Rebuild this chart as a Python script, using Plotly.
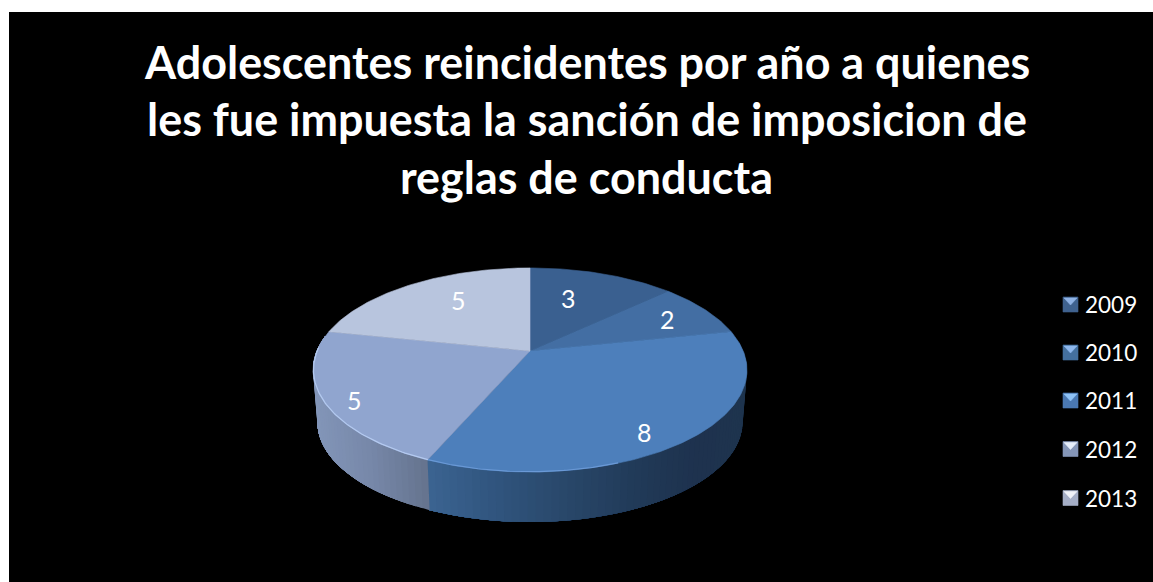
import math
import plotly.graph_objects as go

# ---------- data ----------
YEARS = ["2009", "2010", "2011", "2012", "2013"]
VALUES = [3, 2, 8, 5, 5]
TITLE_LINES = [
    "Adolescentes reincidentes por año a quienes",
    "les fue impuesta la sanción de imposicion de",
    "reglas de conducta",
]

# ---------- styles ----------
TOP_COLORS = ["#3a6090", "#436ea3", "#4d7fbb", "#90a5cf", "#b8c5de"]
ICON_BASE = ["#3f628f", "#44709f", "#4a78b2", "#8596b8", "#a5aec6"]
ICON_LIGHT = ["#8fb2e4", "#8fb8ee", "#8fc2f6", "#e6eefb", "#f0f2f8"]
FONT = "Lato, Carlito, Calibri, sans-serif"

CX, CY_TOP = 530.0, 351.0
A, B, K = 213.2, 98.5, 0.186
DEPTH_SCALE, CY_BOTTOM = 0.98, 403.4
LABEL_XY = [(568, 298), (667, 319), (644, 432), (354, 400), (458, 300)]
LEGEND_X, LEGEND_YS = 1070.5, [304.5, 352.5, 400.5, 449, 498]
TITLE_X, TITLE_YS, TITLE_SIZE = 586.5, [61.6, 119.4, 176.6], 44.9

W_STOPS_8 = [(420, "#3d6694"), (500, "#30547d"), (570, "#294769"), (640, "#213a58"), (700, "#1e324e"), (750, "#1f354f")]
W_STOPS_5 = [(310, "#8497ba"), (370, "#7788a9"), (432, "#64728c")]


def project(theta, r=1.0, scale=1.0, cy=CY_TOP):
    """Polar position on the pie (clockwise from 12 o'clock) -> pixel."""
    X, Y = r * math.sin(theta), r * math.cos(theta)
    d = 1 + K * Y
    return CX + scale * A * X / d, cy - scale * B * Y / d


def mix(stops, x):
    def rgb(h):
        return [int(h[i:i + 2], 16) for i in (1, 3, 5)]
    if x <= stops[0][0]:
        return stops[0][1]
    for (x0, c0), (x1, c1) in zip(stops, stops[1:]):
        if x <= x1:
            t = (x - x0) / (x1 - x0)
            return "rgb(%d,%d,%d)" % tuple(a + (b - a) * t for a, b in zip(rgb(c0), rgb(c1)))
    return stops[-1][1]


fig = go.Figure()


def poly(xs, ys, color, name=None, lw=0.6):
    fig.add_trace(go.Scatter(x=xs, y=ys, mode="lines", fill="toself", fillcolor=color,
                             line=dict(color=color, width=lw), hoverinfo="skip",
                             name=name, showlegend=False))


total = sum(VALUES)
edges = [0.0]
for v in VALUES:
    edges.append(edges[-1] + 2 * math.pi * v / total)

# side wall: each strip runs to the end of its slice and the next strip paints
# over it, which shades the wall along x without visible seams
wall_start, wall_end = math.radians(85), math.radians(279)
step = (wall_end - wall_start) / 110
for stops, lo, hi in ((W_STOPS_8, wall_start, edges[3]), (W_STOPS_5, edges[3], wall_end)):
    count = max(1, int((hi - lo) / step))
    for i in range(count):
        t0 = lo + (hi - lo) * i / count
        pts_top = [project(t0 + (hi - t0) * j / 12) for j in range(13)]
        pts_bot = [project(t0 + (hi - t0) * j / 12, scale=DEPTH_SCALE, cy=CY_BOTTOM) for j in range(13)]
        xm = (project(t0)[0] + project(t0 + (hi - lo) / count)[0]) / 2
        xs = [p[0] for p in pts_top] + [p[0] for p in reversed(pts_bot)]
        ys = [p[1] for p in pts_top] + [p[1] for p in reversed(pts_bot)]
        poly(xs + xs[:1], ys + ys[:1], mix(stops, xm), lw=0)

# top face
for i, year in enumerate(YEARS):
    steps = max(2, int((edges[i + 1] - edges[i]) * 60))
    pts = [project(edges[i] + (edges[i + 1] - edges[i]) * j / steps) for j in range(steps + 1)]
    xs = [CX] + [p[0] for p in pts] + [CX]
    ys = [CY_TOP] + [p[1] for p in pts] + [CY_TOP]
    poly(xs, ys, TOP_COLORS[i], name=year)

# bright rim along the front edge of the top face
for i, color, first in ((2, "#6a99d6", 160), (3, "#b4caf0", 0)):
    start = max(edges[i], math.radians(first))
    end = min(edges[i + 1], math.radians(272))
    pts = [project(start + (end - start) * j / 80, r=0.998) for j in range(81)]
    fig.add_trace(go.Scatter(x=[p[0] for p in pts], y=[p[1] for p in pts], mode="lines",
                             line=dict(color=color, width=1.2), hoverinfo="skip", showlegend=False))

# legend icons (bevelled squares)
HALF = 7.5
for y, base, light in zip(LEGEND_YS, ICON_BASE, ICON_LIGHT):
    l, r, t, b = LEGEND_X - HALF, LEGEND_X + HALF, y - HALF, y + HALF
    poly([l, r, r, l, l], [t, t, b, b, t], base)
    poly([l + 1, r - 1, LEGEND_X, l + 1], [t + 1, t + 1, y + 0.5, t + 1], light)

annotations = []
for line, y in zip(TITLE_LINES, TITLE_YS):
    annotations.append(dict(x=TITLE_X, y=y, text="<b>%s</b>" % line, showarrow=False,
                            xref="x", yref="y", font=dict(family=FONT, size=TITLE_SIZE, color="white")))
for v, (x, y) in zip(VALUES, LABEL_XY):
    annotations.append(dict(x=x, y=y, text=str(v), showarrow=False, xref="x", yref="y",
                            font=dict(family=FONT, size=25, color="white")))
for year, y in zip(YEARS, LEGEND_YS):
    annotations.append(dict(x=1083, y=y, text=year, showarrow=False, xanchor="left", xref="x", yref="y",
                            font=dict(family=FONT, size=22.5, color="white")))

fig.update_layout(
    width=1153, height=582, autosize=False,
    margin=dict(l=9, r=0, t=12, b=0, pad=0),
    paper_bgcolor="white", plot_bgcolor="black",
    showlegend=False, annotations=annotations,
    xaxis=dict(range=[9, 1153], visible=False, fixedrange=True),
    yaxis=dict(range=[582, 12], visible=False, fixedrange=True),
)
fig.write_html("out.html", config=dict(displayModeBar=False),
               post_script="document.body.style.margin='0';document.body.style.overflow='hidden';")
